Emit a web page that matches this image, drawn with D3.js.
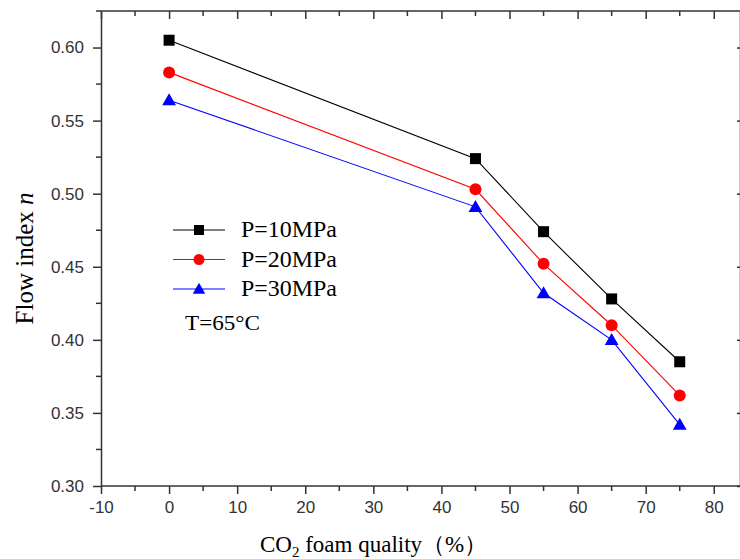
<!DOCTYPE html>
<html>
<head>
<meta charset="utf-8">
<script src="https://cdn.jsdelivr.net/npm/d3@7"></script>
<style>
  body { margin: 0; background: #fff; }
  svg { display: block; }
</style>
</head>
<body>
<svg id="chart" width="740" height="559"></svg>
<script>
// foam quality (%) on x
const quality = [0, 45, 55, 65, 75];
// flow index n per pressure
const p10 = [0.605, 0.524, 0.474, 0.428, 0.385];
const p20 = [0.583, 0.503, 0.452, 0.410, 0.362];
const p30 = [0.564, 0.491, 0.432, 0.400, 0.342];
const seriesNames = ["P=10MPa", "P=20MPa", "P=30MPa"];
const xTicks = [-10, 0, 10, 20, 30, 40, 50, 60, 70, 80];
const yTicks = [0.30, 0.35, 0.40, 0.45, 0.50, 0.55, 0.60];

const svg = d3.select("#chart");
const mLeft = 101, mRight = 741, mTop = 11, mBottom = 486;
const serif = "'Liberation Serif', 'Times New Roman', serif";

const x = d3.scaleLinear().domain([-10, 84]).range([mLeft, mRight]);
const y = d3.scaleLinear().domain([0.30, 0.625]).range([mBottom, mTop]);

const series = [
  { name: seriesNames[0], vals: p10, color: "#000", shape: "square" },
  { name: seriesNames[1], vals: p20, color: "#f00", shape: "circle" },
  { name: seriesNames[2], vals: p30, color: "#00f", shape: "triangle" }
];

const axisColor = "#333";
const minorX = d3.range(-5, 85, 10);
const minorY = [0.325, 0.375, 0.425, 0.475, 0.525, 0.575, 0.625];

// bottom axis
const gx = svg.append("g").attr("transform", `translate(0,${mBottom})`)
  .call(d3.axisBottom(x).tickValues(xTicks).tickFormat(d => String(d))
    .tickSize(8).tickPadding(7).tickSizeOuter(0));
gx.append("g").selectAll("line").data(minorX).join("line")
  .attr("x1", d => x(d)).attr("x2", d => x(d)).attr("y1", 0).attr("y2", 5);

// left axis
const gy = svg.append("g").attr("transform", `translate(${mLeft},0)`)
  .call(d3.axisLeft(y).tickValues(yTicks).tickFormat(d3.format(".2f"))
    .tickSize(8).tickPadding(9).tickSizeOuter(0));
gy.append("g").selectAll("line").data(minorY).join("line")
  .attr("x1", 0).attr("x2", -5).attr("y1", d => y(d)).attr("y2", d => y(d));

// top axis, ticks pointing inward
const gt = svg.append("g").attr("transform", `translate(0,${mTop})`)
  .call(d3.axisBottom(x).tickValues(xTicks).tickSize(8).tickFormat("").tickSizeOuter(0));
gt.append("g").selectAll("line").data(minorX).join("line")
  .attr("x1", d => x(d)).attr("x2", d => x(d)).attr("y1", 0).attr("y2", 5);

// right axis (just off the canvas edge)
const gr = svg.append("g").attr("transform", `translate(${mRight - 1},0)`)
  .call(d3.axisLeft(y).tickValues(yTicks).tickSize(3).tickFormat("").tickSizeOuter(0));

[gx, gy, gt, gr].forEach(g => {
  g.select(".domain").attr("stroke", axisColor).attr("stroke-width", 1.5);
  g.selectAll("line").attr("stroke", axisColor).attr("stroke-width", 1.5);
  g.selectAll("text").attr("fill", "#333")
    .style("font-family", "'Liberation Sans', Arial, sans-serif").style("font-size", "17px");
});
gx.select(".domain").attr("d", `M${mLeft},0H${mRight}`);
gt.select(".domain").attr("d", `M${mLeft},0H${mRight}`);

// marker drawing
function marker(g, shape, color, cx, cy, s) {
  if (shape === "square") {
    g.append("rect").attr("x", cx - s / 2).attr("y", cy - s / 2)
      .attr("width", s).attr("height", s).attr("fill", color);
  } else if (shape === "circle") {
    g.append("circle").attr("cx", cx).attr("cy", cy).attr("r", s / 2 + 0.5).attr("fill", color);
  } else {
    const h = s * 1.05, w = s * 1.25;
    g.append("path").attr("d", `M${cx},${cy - h * 0.6}L${cx + w / 2},${cy + h * 0.45}L${cx - w / 2},${cy + h * 0.45}Z`)
      .attr("fill", color);
  }
}

const line = d3.line().x(d => x(d[0])).y(d => y(d[1]));
series.forEach(s => {
  const pts = quality.map((q, i) => [q, s.vals[i]]);
  svg.append("path").datum(pts).attr("d", line)
    .attr("fill", "none").attr("stroke", s.color).attr("stroke-width", 1.1);
  const g = svg.append("g");
  pts.forEach(p => marker(g, s.shape, s.color, x(p[0]), y(p[1]), 11));
});

// legend
const lg = svg.append("g");
series.forEach((s, i) => {
  const ly = 230 + i * 29.5;
  lg.append("line").attr("x1", 173).attr("x2", 225).attr("y1", ly).attr("y2", ly)
    .attr("stroke", s.color).attr("stroke-width", 1.1);
  marker(lg, s.shape, s.color, 199, ly, 10);
  lg.append("text").attr("x", 241).attr("y", ly + 7).text(s.name)
    .attr("textLength", 96).attr("lengthAdjust", "spacingAndGlyphs")
    .style("font-family", serif).style("font-size", "23px");
});
svg.append("text").attr("x", 185).attr("y", 330).text("T=65°C")
  .attr("textLength", 75).attr("lengthAdjust", "spacingAndGlyphs")
  .style("font-family", serif).style("font-size", "22px");

// axis titles
const xl = svg.append("text").attr("x", 260).attr("y", 552)
  .style("font-family", serif).style("font-size", "23px");
xl.append("tspan").text("CO");
xl.append("tspan").attr("dy", 5).style("font-size", "15px").text("2");
xl.append("tspan").attr("dy", -5).text(" foam quality（%）");

const yl = svg.append("text")
  .attr("transform", `translate(33,${(192 + 325) / 2}) rotate(-90)`)
  .attr("text-anchor", "middle")
  .style("font-family", serif).style("font-size", "25px");
yl.append("tspan").text("Flow index ");
yl.append("tspan").style("font-style", "italic").text("n");
</script>
</body>
</html>
